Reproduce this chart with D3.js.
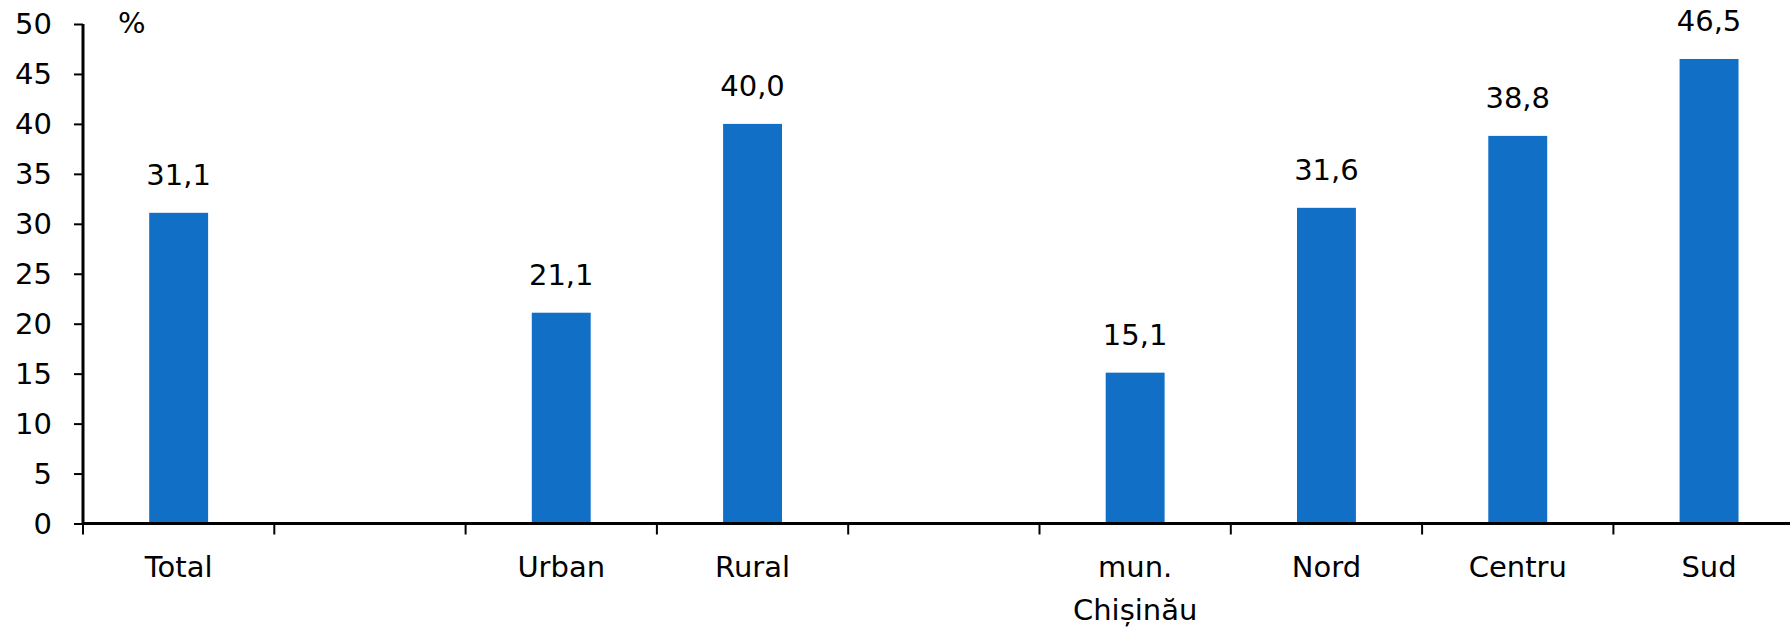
<!DOCTYPE html>
<html>
<head>
<meta charset="utf-8">
<script src="https://cdn.jsdelivr.net/npm/d3@7"></script>
<style>
  body { margin: 0; background: #fff; }
  svg { display: block; }
  text { font-family: "DejaVu Sans", sans-serif; fill: #000; }
</style>
</head>
<body>
<svg id="chart" width="1790" height="627"></svg>
<script>
// ---- data ----
const categories = ["Total", "", "Urban", "Rural", "", "mun. Chișinău", "Nord", "Centru", "Sud"];
const values = [31.1, null, 21.1, 40.0, null, 15.1, 31.6, 38.8, 46.5];
const valueLabels = ["31,1", "", "21,1", "40,0", "", "15,1", "31,6", "38,8", "46,5"];
const yTicks = [0, 5, 10, 15, 20, 25, 30, 35, 40, 45, 50];
const unitLabel = "%";

// ---- layout ----
const W = 1790, H = 627;
const x0 = 83, step = 191.3;
const yTop = 24, yBottom = 523.5;
const fontSize = 29;

const svg = d3.select("#chart");

const idx = d3.range(categories.length);
const x = d3.scaleBand()
  .domain(idx)
  .range([x0, x0 + step * categories.length])
  .paddingInner(0.692)
  .paddingOuter(0.346);

const y = d3.scaleLinear().domain([0, 50]).range([yBottom, yTop]);

// bars
const data = idx.filter(i => values[i] != null);
svg.append("g").selectAll("rect")
  .data(data)
  .join("rect")
  .attr("x", i => x(i))
  .attr("width", x.bandwidth())
  .attr("y", i => y(values[i]))
  .attr("height", i => y(0) - y(values[i]))
  .attr("fill", "#1170c6");

// value labels
svg.append("g").selectAll("text")
  .data(data)
  .join("text")
  .attr("x", i => x(i) + x.bandwidth() / 2)
  .attr("y", i => y(values[i]) - 28)
  .attr("text-anchor", "middle")
  .style("font-size", fontSize + "px")
  .text(i => valueLabels[i]);

// y axis
const yAxis = d3.axisLeft(y).tickValues(yTicks).tickSize(9).tickPadding(0).tickFormat(d3.format("d"));
const gy = svg.append("g").attr("transform", `translate(${x0},0)`).call(yAxis);
gy.select(".domain").remove();
gy.selectAll(".tick line").attr("stroke", "#000").attr("stroke-width", 2);
gy.selectAll(".tick text").remove();
svg.append("line")
  .attr("x1", x0).attr("x2", x0)
  .attr("y1", y(50)).attr("y2", y(0) + 1)
  .attr("stroke", "#000").attr("stroke-width", 3);
svg.append("g").selectAll("text")
  .data(yTicks)
  .join("text")
  .attr("x", 52)
  .attr("y", d => y(d))
  .attr("dy", "0.36em")
  .attr("text-anchor", "end")
  .style("font-size", fontSize + "px")
  .text(d => d);

// unit label
svg.append("text")
  .attr("x", 118).attr("y", 33)
  .style("font-size", fontSize + "px")
  .text(unitLabel);

// x axis line
svg.append("line")
  .attr("x1", x0 - 1).attr("x2", x.range()[1])
  .attr("y1", y(0)).attr("y2", y(0))
  .attr("stroke", "#000").attr("stroke-width", 3);

// x boundary ticks
const bounds = idx.map(i => x(i) - (x.step() - x.bandwidth()) / 2).concat([x.range()[1]]);
svg.append("g").selectAll("line")
  .data(bounds)
  .join("line")
  .attr("x1", d => d).attr("x2", d => d)
  .attr("y1", y(0)).attr("y2", y(0) + 11)
  .attr("stroke", "#000").attr("stroke-width", 2);

// category labels
const catG = svg.append("g").selectAll("text")
  .data(idx.filter(i => categories[i] !== ""))
  .join("text")
  .attr("x", i => x(i) + x.bandwidth() / 2)
  .attr("y", 577)
  .attr("text-anchor", "middle")
  .style("font-size", fontSize + "px");
catG.each(function(i) {
  const parts = categories[i] === "mun. Chișinău" ? ["mun.", "Chișinău"] : [categories[i]];
  d3.select(this).selectAll("tspan")
    .data(parts)
    .join("tspan")
    .attr("x", x(i) + x.bandwidth() / 2)
    .attr("dy", (d, k) => k === 0 ? 0 : 43)
    .text(d => d);
});
</script>
</body>
</html>
